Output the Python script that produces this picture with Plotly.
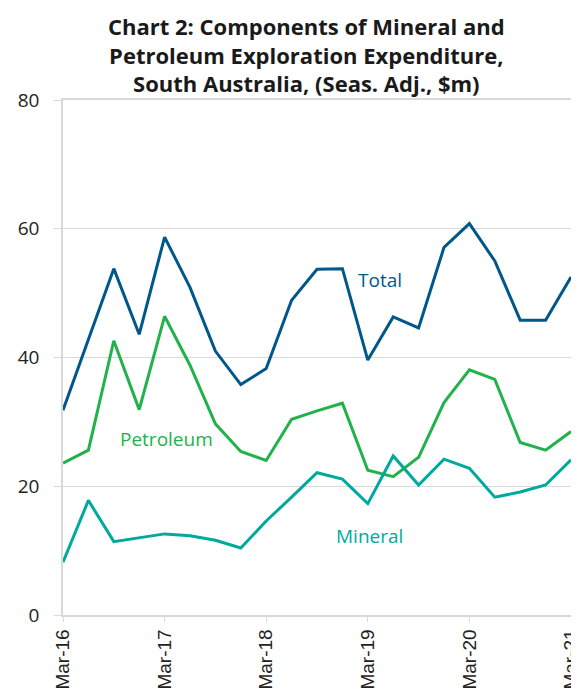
import plotly.graph_objects as go

quarters = ["Mar-16", "Jun-16", "Sep-16", "Dec-16",
            "Mar-17", "Jun-17", "Sep-17", "Dec-17",
            "Mar-18", "Jun-18", "Sep-18", "Dec-18",
            "Mar-19", "Jun-19", "Sep-19", "Dec-19",
            "Mar-20", "Jun-20", "Sep-20", "Dec-20",
            "Mar-21"]
total = [31.8, 42.8, 53.8, 43.6, 58.7, 50.9, 41.0, 35.8, 38.3, 48.9, 53.7, 53.8,
         39.6, 46.3, 44.6, 57.1, 60.8, 55.0, 45.8, 45.8, 52.5]
petroleum = [23.6, 25.6, 42.6, 31.9, 46.4, 38.8, 29.7, 25.4, 24.0, 30.4, 31.7, 32.9,
             22.5, 21.5, 24.5, 33.0, 38.1, 36.6, 26.8, 25.6, 28.5]
mineral = [8.2, 17.8, 11.4, 12.0, 12.6, 12.3, 11.6, 10.4, 14.6, 18.3, 22.1, 21.1,
           17.3, 24.7, 20.2, 24.2, 22.8, 18.3, 19.1, 20.2, 24.1]
tick_labels = ["Mar-16", "Mar-17", "Mar-18", "Mar-19", "Mar-20", "Mar-21"]
y_ticks = [0, 20, 40, 60, 80]

c_total = "#00578A"
c_pet = "#22B24C"
c_min = "#00A99D"

x = list(range(len(quarters)))
fig = go.Figure()
for name, vals, col in [("Total", total, c_total), ("Petroleum", petroleum, c_pet),
                        ("Mineral", mineral, c_min)]:
    fig.add_trace(go.Scatter(x=x, y=vals, mode="lines", name=name,
                             line=dict(color=col, width=3), hoverinfo="y"))

tickpos = [quarters.index(t) for t in tick_labels]

# page has an 8px body margin; figure sized so that the plot lands where the reference has it
fig.update_layout(
    width=571, height=685,
    margin=dict(l=55, r=8, t=92, b=78, autoexpand=False),
    paper_bgcolor="white", plot_bgcolor="white",
    showlegend=False,
    font=dict(family="Open Sans, Noto Sans, sans-serif", color="#222222"),
    xaxis=dict(range=[0, len(quarters) - 1], tickvals=tickpos, ticktext=tick_labels,
               tickangle=-90, showgrid=False, zeroline=False, automargin=False,
               showline=True, linecolor="#d9d9d9", linewidth=1.5, mirror=True,
               ticks="outside", ticklen=5, tickcolor="#d9d9d9",
               ticklabeloverflow="allow",
               tickfont=dict(size=19, color="#222222",
                             family="Liberation Sans, Arial, sans-serif")),
    yaxis=dict(range=[0, 80], tickvals=y_ticks, showgrid=True, gridcolor="#d9d9d9",
               gridwidth=1, zeroline=False, automargin=False,
               showline=True, linecolor="#d9d9d9", linewidth=1.5, mirror=True,
               ticks="outside", ticklen=7, tickcolor="#d9d9d9",
               ticklabelstandoff=11,
               tickfont=dict(size=19, color="#222222")),
)

fig.add_annotation(xref="paper", yref="paper", x=0.48, y=1.177, xanchor="center",
                   yanchor="top", showarrow=False, align="center",
                   text="<b>Chart 2: Components of Mineral and<br>Petroleum Exploration Expenditure,<br>South Australia, (Seas. Adj., $m)</b>",
                   font=dict(size=22, color="#1a1a1a"))

fig.add_annotation(x=12.48, y=52.1, text="Total", showarrow=False, xanchor="center",
                   font=dict(size=19, color=c_total))
fig.add_annotation(x=4.06, y=27.3, text="Petroleum", showarrow=False, xanchor="center",
                   font=dict(size=19, color=c_pet))
fig.add_annotation(x=12.05, y=12.3, text="Mineral", showarrow=False, xanchor="center",
                   font=dict(size=19, color=c_min))

fig.write_html("out.html")
